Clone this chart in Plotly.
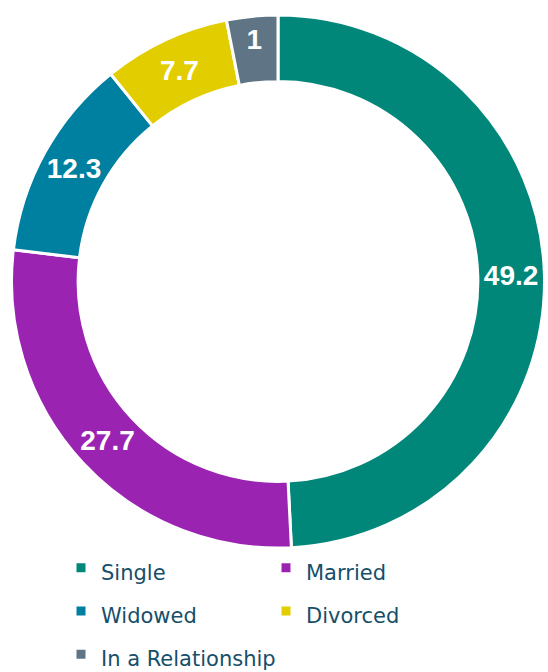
import plotly.graph_objects as go

categories = ["Single", "Married", "Widowed", "Divorced", "In a Relationship"]
values = [49.2, 27.7, 12.3, 7.7, 3.1]
value_labels = ["49.2", "27.7", "12.3", "7.7", "1"]
colors = ["#00877A", "#9A24B1", "#0080A0", "#E1CD00", "#5F7585"]

W, H = 548, 672

legend_names = [f"<span style='font-size:21px'>{c}</span>" for c in categories]

fig = go.Figure(
    go.Pie(
        labels=legend_names,
        values=values,
        text=value_labels,
        textinfo="text",
        textposition="inside",
        insidetextorientation="auto",
        hole=0.75,
        sort=False,
        direction="clockwise",
        rotation=0,
        marker=dict(colors=colors, line=dict(color="white", width=3)),
        insidetextfont=dict(family="Liberation Sans", size=28, color="white", weight="bold"),
        domain=dict(x=[11 / W, 545 / W], y=[1 - 548 / H, 1 - 15 / H]),
        hovertemplate="%{label}: %{value}<extra></extra>",
    )
)

fig.update_layout(
    width=W,
    height=H,
    margin=dict(l=0, r=0, t=0, b=0, autoexpand=False),
    paper_bgcolor="white",
    plot_bgcolor="white",
    showlegend=True,
    legend=dict(
        orientation="h",
        x=61 / W,
        xanchor="left",
        y=1 - 541 / H,
        yanchor="top",
        bgcolor="rgba(0,0,0,0)",
        entrywidth=160,
        entrywidthmode="pixels",
        font=dict(family="DejaVu Sans", size=31, color="#164F69"),
        traceorder="normal",
    ),
)

fig.write_html(
    "out.html",
    config={"displayModeBar": False},
    post_script="document.body.style.margin='0';document.body.style.overflow='hidden';",
)
